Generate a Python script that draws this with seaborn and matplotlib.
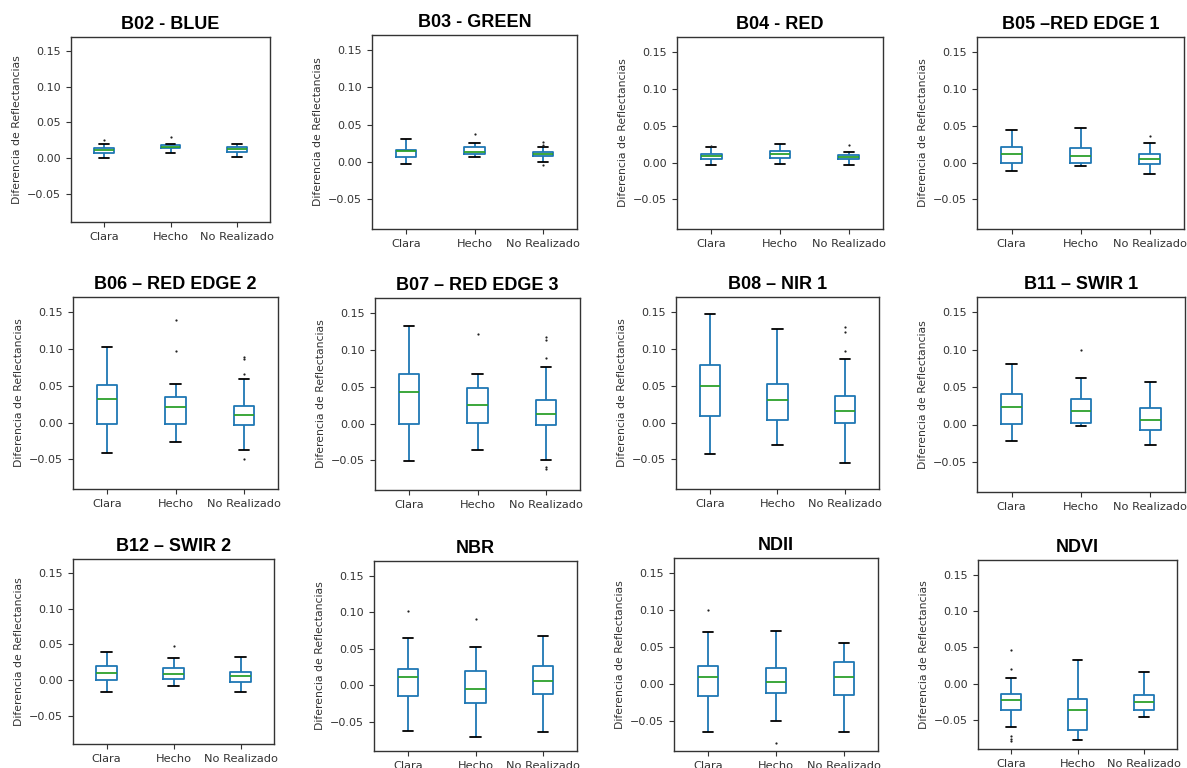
import numpy as np
import pandas as pd
import matplotlib
matplotlib.use("Agg")
import matplotlib.pyplot as plt
import seaborn as sns

# ---------------- data ----------------
categories = ["Clara", "Hecho", "No Realizado"]
titles = ["B02 - BLUE", "B03 - GREEN", "B04 - RED", "B05 \u2013RED EDGE 1",
          "B06 \u2013 RED EDGE 2", "B07 \u2013 RED EDGE 3", "B08 \u2013 NIR 1", "B11 \u2013 SWIR 1",
          "B12 \u2013 SWIR 2", "NBR", "NDII", "NDVI"]

# per panel: values for [Clara, Hecho, No Realizado]
whisker_low = [
    [0.000, 0.0075, 0.001],
    [-0.003, 0.0067, 0.000],
    [-0.003, -0.0014, -0.0027],
    [-0.011, -0.0045, -0.0154],
    [-0.041, -0.027, -0.0378],
    [-0.0512, -0.0355, -0.050],
    [-0.0429, -0.0302, -0.0542],
    [-0.0214, -0.0022, -0.0276],
    [-0.0164, -0.008, -0.0164],
    [-0.063, -0.0712, -0.0644],
    [-0.0646, -0.050, -0.0646],
    [-0.0591, -0.0782, -0.0464],
]
q1 = [
    [0.0075, 0.0135, 0.009],
    [0.0067, 0.0099, 0.0072],
    [0.0045, 0.0063, 0.005],
    [0.000, 0.000, -0.0014],
    [-0.0014, -0.0014, -0.0027],
    [0.000, 0.0009, -0.0018],
    [0.0086, 0.0032, 0.000],
    [0.0009, 0.0022, -0.0067],
    [0.000, 0.0019, -0.0033],
    [-0.0146, -0.0242, -0.0114],
    [-0.0163, -0.0117, -0.0144],
    [-0.0368, -0.0636, -0.0368],
]
median = [
    [0.0117, 0.016, 0.012],
    [0.0139, 0.013, 0.0108],
    [0.009, 0.0117, 0.0072],
    [0.0118, 0.0086, 0.0054],
    [0.0324, 0.0212, 0.0099],
    [0.0431, 0.0256, 0.0126],
    [0.0497, 0.0307, 0.0158],
    [0.024, 0.0174, 0.0062],
    [0.0099, 0.008, 0.0052],
    [0.011, -0.005, 0.0059],
    [0.0095, 0.0027, 0.0095],
    [-0.0223, -0.0364, -0.0255],
]
q3 = [
    [0.0145, 0.0187, 0.015],
    [0.016, 0.0197, 0.013],
    [0.0113, 0.016, 0.0099],
    [0.0217, 0.020, 0.0118],
    [0.0509, 0.0351, 0.0225],
    [0.067, 0.048, 0.0315],
    [0.0781, 0.0528, 0.0366],
    [0.041, 0.0334, 0.0218],
    [0.0192, 0.0174, 0.0113],
    [0.0219, 0.0196, 0.0265],
    [0.0248, 0.0221, 0.0298],
    [-0.0141, -0.0209, -0.0159],
]
whisker_high = [
    [0.0196, 0.0196, 0.0196],
    [0.0305, 0.0255, 0.020],
    [0.021, 0.025, 0.014],
    [0.0438, 0.047, 0.0258],
    [0.1023, 0.0527, 0.0595],
    [0.1326, 0.067, 0.0769],
    [0.1476, 0.1264, 0.0862],
    [0.0811, 0.0619, 0.057],
    [0.0399, 0.0305, 0.0329],
    [0.0653, 0.0525, 0.0667],
    [0.070, 0.0718, 0.0555],
    [0.0077, 0.0318, 0.0159],
]
# outliers per panel: (category, value)
fliers = [
    [("Clara", 0.025), ("Hecho", 0.029)],
    [("Hecho", 0.037), ("No Realizado", 0.026), ("No Realizado", 0.023), ("No Realizado", -0.0045)],
    [("Clara", 0.023), ("No Realizado", 0.0243)],
    [("No Realizado", 0.0357)],
    [("Hecho", 0.139), ("Hecho", 0.0964), ("No Realizado", 0.0887), ("No Realizado", 0.0856),
     ("No Realizado", 0.066), ("No Realizado", -0.049)],
    [("Hecho", 0.1218), ("No Realizado", 0.1169), ("No Realizado", 0.1133), ("No Realizado", 0.0894),
     ("No Realizado", -0.0584), ("No Realizado", -0.0611)],
    [("No Realizado", 0.1296), ("No Realizado", 0.1224), ("No Realizado", 0.0966)],
    [("Hecho", 0.0993)],
    [("Hecho", 0.0479)],
    [("Clara", 0.1009), ("Hecho", 0.090)],
    [("Clara", 0.0993), ("Hecho", -0.0786)],
    [("Clara", 0.0464), ("Clara", 0.0205), ("Clara", -0.0727), ("Clara", -0.0764), ("Clara", -0.0795)],
]
ylabel = "Diferencia de Reflectancias"
yticks = [-0.05, 0.00, 0.05, 0.10, 0.15]

# ---------------- layout (pixel boxes: left, top, right, bottom) ----------------
W, H = 1187, 768
boxes = [
    (71, 37, 270, 222), (372, 35, 577, 229), (677, 37, 883, 229), (977, 37, 1184, 229),
    (73, 297, 278, 489), (375, 298, 580, 490), (676, 297, 879, 489), (977, 297, 1185, 492),
    (73, 559, 274, 744), (374, 561, 577, 751), (674, 558, 878, 751), (978, 560, 1177, 749),
]

sns.set_style("ticks")
plt.rcParams["font.family"] = ["DejaVu Sans"]
plt.rcParams["axes.edgecolor"] = "#333333"
plt.rcParams["axes.linewidth"] = 1.0

fig = plt.figure(figsize=(W / 100, H / 100), dpi=100)

for i in range(12):
    l, t, r, b = boxes[i]
    ax = fig.add_axes([l / W, 1 - b / H, (r - l) / W, (b - t) / H])
    rows = []
    for j, c in enumerate(categories):
        for v in (whisker_low[i][j], q1[i][j], median[i][j], q3[i][j], whisker_high[i][j]):
            rows.append({"grupo": c, "valor": v})
    df = pd.DataFrame(rows)
    sns.boxplot(data=df, x="grupo", y="valor", order=categories, ax=ax,
                fill=False, color="#1f77b4", saturation=1, width=0.3,
                linewidth=1.3, whis=(0, 100), showfliers=False,
                medianprops={"color": "#2ca02c"},
                capprops={"color": "black"})
    if fliers[i]:
        fdf = pd.DataFrame(fliers[i], columns=["grupo", "valor"])
        sns.stripplot(data=fdf, x="grupo", y="valor", order=categories, ax=ax,
                      jitter=False, size=1.6, color="#222222", linewidth=0)
    ax.set_xlim(-0.5, 2.5)
    ax.set_ylim(-0.09, 0.17)
    ax.set_yticks(yticks)
    ax.set_yticklabels([f"{v:.2f}".replace("-", "\u2212") for v in yticks])
    ax.set_xlabel("")
    ax.set_ylabel(ylabel, fontsize=7.8, color="#333333")
    ax.tick_params(axis="y", labelsize=8, colors="#333333", length=3.5)
    ax.tick_params(axis="x", labelsize=8.2, colors="#333333", length=3.5)
    ax.set_title(titles[i], fontsize=13, fontweight="bold", color="black",
                 family=["Liberation Sans", "DejaVu Sans"], pad=6)

fig.savefig("out.png", dpi=100)
